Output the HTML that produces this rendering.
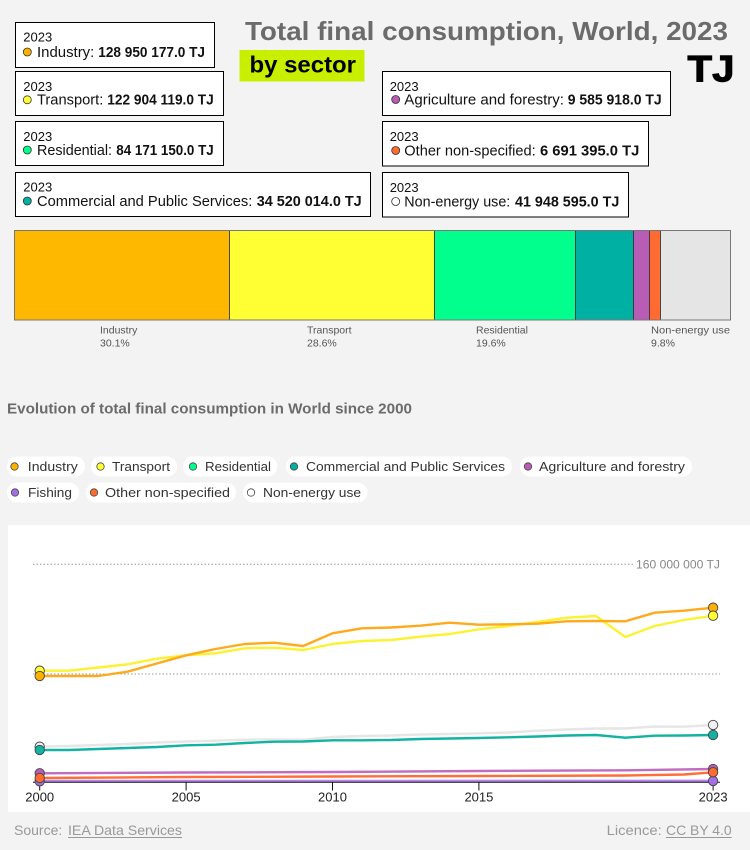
<!DOCTYPE html>
<html><head><meta charset="utf-8"><style>
html,body{margin:0;padding:0;background:#f3f3f3;}
svg{display:block;font-family:"Liberation Sans",Arial,sans-serif;}
</style></head><body>
<svg width="750" height="850" viewBox="0 0 750 850" xmlns="http://www.w3.org/2000/svg">
<rect x="0" y="0" width="750" height="850" fill="#f3f3f3"/>
<!-- Title -->
<text x="245" y="40" font-size="26" font-weight="bold" fill="#6b6b6b" textLength="483" lengthAdjust="spacingAndGlyphs">Total final consumption, World, 2023</text>
<rect x="239.5" y="50" width="125" height="31.5" fill="#c9ef00"/>
<text x="249.5" y="72.5" font-size="23" font-weight="bold" fill="#000" textLength="106.5" lengthAdjust="spacingAndGlyphs">by sector</text>
<text x="687.5" y="81.5" font-size="37" font-weight="bold" fill="#000" stroke="#000" stroke-width="1" textLength="47" lengthAdjust="spacingAndGlyphs">TJ</text>

<!-- Tooltip boxes -->
<g font-size="13" fill="#111">
<rect x="15.5" y="22.5" width="199" height="45" fill="#fff" stroke="#000" stroke-width="1"/>
<text x="23.3" y="41.7" font-size="13">2023</text>
<circle cx="27.3" cy="52" r="4" fill="#ffb000" stroke="#333" stroke-width="0.8"/>
<text x="37" y="57" font-size="14.5" textLength="57.3" lengthAdjust="spacingAndGlyphs">Industry:</text>
<text x="98.3" y="57" font-size="14.5" font-weight="bold" textLength="106.7" lengthAdjust="spacingAndGlyphs">128 950 177.0 TJ</text>

<rect x="15.5" y="71.5" width="208" height="44" fill="#fff" stroke="#000" stroke-width="1"/>
<text x="23.3" y="91" font-size="13">2023</text>
<circle cx="27.3" cy="99.8" r="4" fill="#ffff33" stroke="#333" stroke-width="0.8"/>
<text x="37" y="104.5" font-size="14.5" textLength="66.3" lengthAdjust="spacingAndGlyphs">Transport:</text>
<text x="107.3" y="104.5" font-size="14.5" font-weight="bold" textLength="106.4" lengthAdjust="spacingAndGlyphs">122 904 119.0 TJ</text>

<rect x="15.5" y="121.5" width="208" height="44" fill="#fff" stroke="#000" stroke-width="1"/>
<text x="23.3" y="141" font-size="13">2023</text>
<circle cx="27.3" cy="150" r="4" fill="#00ff88" stroke="#333" stroke-width="0.8"/>
<text x="37" y="155" font-size="14.5" textLength="75" lengthAdjust="spacingAndGlyphs">Residential:</text>
<text x="116.3" y="155" font-size="14.5" font-weight="bold" textLength="97.4" lengthAdjust="spacingAndGlyphs">84 171 150.0 TJ</text>

<rect x="15.5" y="172.5" width="355" height="44" fill="#fff" stroke="#000" stroke-width="1"/>
<text x="23.3" y="191.5" font-size="13">2023</text>
<circle cx="27.3" cy="201" r="4" fill="#00b0a0" stroke="#333" stroke-width="0.8"/>
<text x="37" y="206" font-size="14.5" textLength="215.3" lengthAdjust="spacingAndGlyphs">Commercial and Public Services:</text>
<text x="256.7" y="206" font-size="14.5" font-weight="bold" textLength="105" lengthAdjust="spacingAndGlyphs">34 520 014.0 TJ</text>

<rect x="382.5" y="71.5" width="288" height="44" fill="#fff" stroke="#000" stroke-width="1"/>
<text x="389.7" y="91" font-size="13">2023</text>
<circle cx="395.7" cy="99.5" r="4" fill="#b85cb5" stroke="#333" stroke-width="0.8"/>
<text x="404.3" y="104.5" font-size="14.5" textLength="159.7" lengthAdjust="spacingAndGlyphs">Agriculture and forestry:</text>
<text x="567.7" y="104.5" font-size="14.5" font-weight="bold" textLength="94" lengthAdjust="spacingAndGlyphs">9 585 918.0 TJ</text>

<rect x="382.5" y="121.5" width="266" height="44.5" fill="#fff" stroke="#000" stroke-width="1"/>
<text x="389.7" y="141" font-size="13">2023</text>
<circle cx="395.7" cy="150.5" r="4" fill="#ff6b2e" stroke="#333" stroke-width="0.8"/>
<text x="404.3" y="155.5" font-size="14.5" textLength="131.4" lengthAdjust="spacingAndGlyphs">Other non-specified:</text>
<text x="540" y="155.5" font-size="14.5" font-weight="bold" textLength="99.3" lengthAdjust="spacingAndGlyphs">6 691 395.0 TJ</text>

<rect x="382.5" y="172.5" width="246" height="44.5" fill="#fff" stroke="#000" stroke-width="1"/>
<text x="389.7" y="192" font-size="13">2023</text>
<circle cx="395.7" cy="201.5" r="4" fill="#fff" stroke="#333" stroke-width="0.8"/>
<text x="404.3" y="206.5" font-size="14.5" textLength="106" lengthAdjust="spacingAndGlyphs">Non-energy use:</text>
<text x="515" y="206.5" font-size="14.5" font-weight="bold" textLength="104.3" lengthAdjust="spacingAndGlyphs">41 948 595.0 TJ</text>
</g>

<!-- Stacked bar -->
<g stroke="#333" stroke-width="0.8">
<rect x="14.5" y="230.5" width="215" height="89.5" fill="#ffb800"/>
<rect x="229.5" y="230.5" width="205" height="89.5" fill="#ffff33"/>
<rect x="434.5" y="230.5" width="141" height="89.5" fill="#00ff8c"/>
<rect x="575.5" y="230.5" width="58" height="89.5" fill="#00b0a2"/>
<rect x="633.5" y="230.5" width="16" height="89.5" fill="#b95cb6"/>
<rect x="649.5" y="230.5" width="11" height="89.5" fill="#ff6b30"/>
<rect x="660.5" y="230.5" width="70" height="89.5" fill="#e5e5e5"/>
</g>
<rect x="14.5" y="230.5" width="716" height="89.5" fill="none" stroke="#777" stroke-width="1"/>
<g font-size="10.5" fill="#555">
<text x="100" y="333.5">Industry</text><text x="100" y="346.7">30.1%</text>
<text x="307" y="333.5">Transport</text><text x="307" y="346.7">28.6%</text>
<text x="476" y="333.5">Residential</text><text x="476" y="346.7">19.6%</text>
<text x="651" y="333.5" textLength="79" lengthAdjust="spacingAndGlyphs">Non-energy use</text><text x="651" y="346.7">9.8%</text>
</g>

<!-- Evolution heading -->
<text x="7" y="413.5" font-size="15" font-weight="bold" fill="#6b6b6b" textLength="405" lengthAdjust="spacingAndGlyphs">Evolution of total final consumption in World since 2000</text>

<!-- Legend pills -->
<g font-size="13" fill="#333">
<rect x="7" y="456.5" width="78" height="20" rx="10" fill="#fff"/>
<circle cx="14.5" cy="466.5" r="3.7" fill="#ffb000" stroke="#444" stroke-width="0.8"/>
<text x="27.8" y="471" textLength="50" lengthAdjust="spacingAndGlyphs">Industry</text>
<rect x="91" y="456.5" width="86" height="20" rx="10" fill="#fff"/>
<circle cx="100.5" cy="466.5" r="3.7" fill="#ffff33" stroke="#444" stroke-width="0.8"/>
<text x="112" y="471" textLength="58" lengthAdjust="spacingAndGlyphs">Transport</text>
<rect x="183" y="456.5" width="94.5" height="20" rx="10" fill="#fff"/>
<circle cx="193" cy="466.5" r="3.7" fill="#00ff88" stroke="#444" stroke-width="0.8"/>
<text x="205" y="471" textLength="66" lengthAdjust="spacingAndGlyphs">Residential</text>
<rect x="286" y="456.5" width="226" height="20" rx="10" fill="#fff"/>
<circle cx="294" cy="466.5" r="3.7" fill="#00b0a0" stroke="#444" stroke-width="0.8"/>
<text x="306" y="471" textLength="199" lengthAdjust="spacingAndGlyphs">Commercial and Public Services</text>
<rect x="520" y="456.5" width="172" height="20" rx="10" fill="#fff"/>
<circle cx="528" cy="466.5" r="3.7" fill="#b85cb5" stroke="#444" stroke-width="0.8"/>
<text x="539" y="471" textLength="146" lengthAdjust="spacingAndGlyphs">Agriculture and forestry</text>

<rect x="7" y="482.5" width="72" height="20" rx="10" fill="#fff"/>
<circle cx="15" cy="492.5" r="3.7" fill="#a66ee6" stroke="#444" stroke-width="0.8"/>
<text x="28" y="497" textLength="44" lengthAdjust="spacingAndGlyphs">Fishing</text>
<rect x="86" y="482.5" width="150" height="20" rx="10" fill="#fff"/>
<circle cx="94" cy="492.5" r="3.7" fill="#ff6b2e" stroke="#444" stroke-width="0.8"/>
<text x="105" y="497" textLength="125" lengthAdjust="spacingAndGlyphs">Other non-specified</text>
<rect x="243" y="482.5" width="124.5" height="20" rx="10" fill="#fff"/>
<circle cx="251" cy="492.5" r="3.7" fill="#fff" stroke="#444" stroke-width="0.8"/>
<text x="263" y="497" textLength="98" lengthAdjust="spacingAndGlyphs">Non-energy use</text>
</g>

<!-- Line chart area -->
<rect x="8" y="525" width="742" height="287" fill="#fff"/>
<line x1="33" y1="564.3" x2="633" y2="564.3" stroke="#999" stroke-width="1" stroke-dasharray="1.5 2"/>
<text x="636" y="568.5" font-size="12" fill="#888" textLength="84" lengthAdjust="spacingAndGlyphs">160 000 000 TJ</text>
<line x1="33" y1="674" x2="720" y2="674" stroke="#999" stroke-width="1" stroke-dasharray="1.5 2"/>

<g fill="none" stroke-width="2.4" stroke-linejoin="round">
<polyline stroke="#e6e6e6" points="39.7,746.7 69,746 98.3,745 127.5,744 156.8,742.5 186.1,741.5 215.4,740.7 244.7,739.7 273.9,739.5 303.2,739.7 332.5,737 361.8,736 391.1,735.5 420.3,734.5 449.6,734 478.9,733.3 508.2,732.5 537.5,730.7 566.7,729.5 596,728.5 625.3,728.5 654.6,726.5 683.9,726.7 713.1,725"/>
<polyline stroke="#13b3a1" points="39.7,750 69,750 98.3,749 127.5,748 156.8,747 186.1,745.3 215.4,744.7 244.7,743 273.9,741.7 303.2,741.5 332.5,740.3 361.8,740.3 391.1,740 420.3,739 449.6,738.5 478.9,738 508.2,737.3 537.5,736.5 566.7,735.5 596,735 625.3,737.7 654.6,735.7 683.9,735.5 713.1,735"/>
<polyline stroke="#c06cc0" points="39.7,773.3 186.1,772.5 332.5,772 478.9,771 625.3,770.3 713.1,769"/>
<polyline stroke="#ff6e35" points="39.7,778 186.1,777 332.5,776.5 478.9,776 625.3,775.5 683.9,774.5 713.1,772.3"/>
<polyline stroke="#b886ee" points="39.7,781 713.1,780.8"/>
<polyline stroke="#fbf230" points="39.7,670.7 69,670.7 98.3,667.5 127.5,664.3 156.8,658.7 186.1,655.3 215.4,653.3 244.7,648.3 273.9,647.7 303.2,650 332.5,644 361.8,641 391.1,640 420.3,636.7 449.6,634 478.9,629.3 508.2,626 537.5,622 566.7,617.7 596,616 625.3,637 654.6,626 683.9,620 713.1,615.7"/>
<polyline stroke="#ffaa1c" points="39.7,676 69,676 98.3,676 127.5,671.7 156.8,663.5 186.1,655.3 215.4,649 244.7,644 273.9,642.7 303.2,646 332.5,633.3 361.8,628.3 391.1,627.5 420.3,625.7 449.6,622.7 478.9,624.7 508.2,624.3 537.5,623.7 566.7,621.3 596,621 625.3,621.3 654.6,612.7 683.9,610.7 713.1,607.7"/>
</g>

<!-- axis -->
<line x1="33" y1="782.3" x2="720" y2="782.3" stroke="#111" stroke-width="1"/>
<g stroke="#111" stroke-width="1">
<line x1="39.7" y1="782" x2="39.7" y2="790.5"/>
<line x1="186.1" y1="782" x2="186.1" y2="790.5"/>
<line x1="332.5" y1="782" x2="332.5" y2="790.5"/>
<line x1="478.9" y1="782" x2="478.9" y2="790.5"/>
<line x1="713.1" y1="782" x2="713.1" y2="790.5"/>
</g>

<!-- dots -->
<g stroke="#444" stroke-width="0.9">
<circle cx="39.7" cy="746.7" r="4.7" fill="#f0f0f0"/>
<circle cx="39.7" cy="750" r="4.7" fill="#13b3a1"/>
<circle cx="39.7" cy="781.3" r="4.7" fill="#a66ee6"/>
<circle cx="39.7" cy="773.3" r="4.7" fill="#b85cb5"/>
<circle cx="39.7" cy="778" r="4.7" fill="#ff6b2e"/>
<circle cx="39.7" cy="670.7" r="4.7" fill="#ffff33"/>
<circle cx="39.7" cy="676" r="4.7" fill="#ffb000"/>
<circle cx="713.1" cy="725" r="4.7" fill="#f0f0f0"/>
<circle cx="713.1" cy="735" r="4.7" fill="#13b3a1"/>
<circle cx="713.1" cy="781" r="4.7" fill="#a66ee6"/>
<circle cx="713.1" cy="769" r="4.7" fill="#b85cb5"/>
<circle cx="713.1" cy="772.3" r="4.7" fill="#ff6b2e"/>
<circle cx="713.1" cy="607.7" r="4.7" fill="#ffb000"/>
<circle cx="713.1" cy="615.7" r="4.7" fill="#ffff33"/>
</g>

<g font-size="13" fill="#222" text-anchor="middle">
<text x="39.7" y="801.5">2000</text>
<text x="186.1" y="801.5">2005</text>
<text x="332.5" y="801.5">2010</text>
<text x="478.9" y="801.5">2015</text>
<text x="713.1" y="801.5">2023</text>
</g>

<!-- footer -->
<g font-size="14" fill="#999">
<text x="14" y="835">Source: </text>
<text x="68" y="835" textLength="114" lengthAdjust="spacingAndGlyphs">IEA Data Services</text>
<line x1="68" y1="837.5" x2="182" y2="837.5" stroke="#999" stroke-width="1"/>
<text x="606.7" y="835" textLength="55" lengthAdjust="spacingAndGlyphs">Licence:</text>
<text x="666" y="835" textLength="65.7" lengthAdjust="spacingAndGlyphs">CC BY 4.0</text>
<line x1="666" y1="837.5" x2="731.7" y2="837.5" stroke="#999" stroke-width="1"/>
</g>
</svg>
</body></html>
